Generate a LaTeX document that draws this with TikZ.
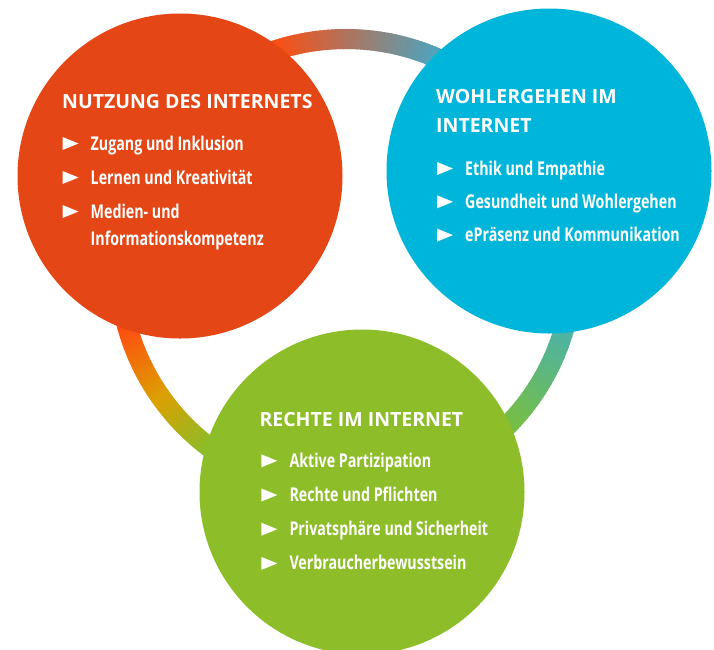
\documentclass[tikz,border=0pt]{standalone}
\usepackage{fontspec}
\setmainfont{Open Sans}
\newfontfamily\headfont{Open Sans}
\newfontfamily\itemfont{Open Sans}[FakeStretch=0.75]

\definecolor{usered}{HTML}{E54615}
\definecolor{wellblue}{HTML}{00B5DA}
\definecolor{rightgreen}{HTML}{8DBE29}
% stops of the colour ring behind the discs
\definecolor{ringorange}{HTML}{FF4C10}
\definecolor{ringyellow}{HTML}{DDA000}
\definecolor{ringgreen}{HTML}{80C030}
\definecolor{ringblue}{HTML}{3AAED0}

\begin{document}
\begin{tikzpicture}[x=1pt, y=1pt,
    disc/.style={circle, inner sep=0pt, minimum size=325pt},
    ring/.style={line width=20pt},
    heading/.style={anchor=base west, inner sep=0pt, text=white,
      font=\headfont\bfseries\fontsize{19.5}{23}\selectfont},
    item/.style={anchor=base west, inner sep=0pt, text=white,
      font=\itemfont\bfseries\fontsize{19}{22}\selectfont}]
  \fill[white] (0,0) rectangle (714,-649);
  \useasboundingbox (0,0) rectangle (714,-649);

  % ring, drawn in short arcs so the colour can run round it
  \coordinate (hub) at (346,-266);
  \foreach \from/\to/\ca/\cb in {-5/62/ringblue/ringblue,
      62/108/ringblue/ringorange, 108/195/ringorange/ringorange,
      195/215/ringorange/ringyellow, 215/235/ringyellow/ringgreen,
      235/310/ringgreen/ringgreen, 310/355/ringgreen/ringblue}
    \foreach \t in {0,2,...,98} {
      \pgfmathsetmacro\ang{\from+(\to-\from)*\t/100}
      \pgfmathsetmacro\len{(\to-\from)*0.03}
      \draw[ring, \cb!\t!\ca] ([shift={(\ang:227)}]hub)
        arc[start angle=\ang, delta angle=\len, radius=227];
    }

  \node[disc, fill=usered] (use) at (180,-176) {};
  \node[disc, fill=wellblue] (well) at (549,-171) {};
  \node[disc, fill=rightgreen] (right) at (362,-492) {};

  % Nutzung
  \node[heading] (useh) at (62,-108.3) {NUTZUNG DES INTERNETS};
  \foreach \txt [count=\i] in {Zugang und Inklusion, Lernen und Kreativität, Medien- und}
    \node[item] (use\i) at (90.5,{-150-34*(\i-1)}) {\txt};
  \node[item] (use4) at (90.5,-245) {Informationskompetenz};

  % Wohlergehen
  \node[heading] (wellh) at (436,-103.3) {WOHLERGEHEN IM};
  \node[heading] (wellh2) at (436,-132.7) {INTERNET};
  \foreach \txt [count=\i] in {Ethik und Empathie, Gesundheit und Wohlergehen,
      ePräsenz und Kommunikation}
    \node[item] (well\i) at (465,{-175-33.3*(\i-1)}) {\txt};

  % Rechte
  \node[heading] (righth) at (259.3,-426.7) {RECHTE IM INTERNET};
  \foreach \txt [count=\i] in {Aktive Partizipation, Rechte und Pflichten,
      Privatsphäre und Sicherheit, Verbraucherbewusstsein}
    \node[item] (right\i) at (289.3,{-467.3-34.2*(\i-1)}) {\txt};

  % pointers in front of the items
  \foreach \n in {use1,use2,use3,well1,well2,well3,right1,right2,right3,right4}
    \fill[white] ([xshift=-28pt]\n.base west) -- ++(0,13) -- ++(16,-6.5) -- cycle;
\end{tikzpicture}
\end{document}
